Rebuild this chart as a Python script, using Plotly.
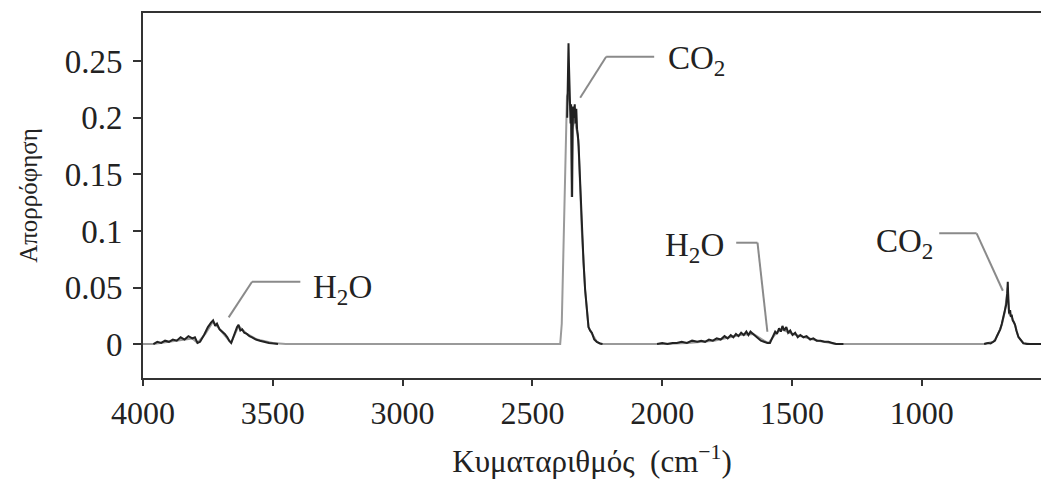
import plotly.graph_objects as go

# Smooth envelope of the IR absorbance spectrum (drawn in grey underneath)
wn_envelope = [4000, 3960, 3900, 3850, 3810, 3790, 3760, 3730, 3700, 3661, 3632, 3600,
               3560, 3500, 3450, 2400, 2393, 2387, 2378, 2370, 2367, 2362, 2357, 2352,
               2349, 2346, 2340, 2330, 2323, 2310, 2297, 2284, 2270, 2252, 2233, 2000,
               1900, 1800, 1700, 1650, 1600, 1590, 1560, 1540, 1500, 1450, 1400, 1330,
               760, 725, 712, 692, 680, 669, 664, 654, 641, 628, 609, 583, 541]
abs_envelope = [0.0, 0.0, 0.002, 0.004, 0.005, 0.001, 0.009, 0.020, 0.012, 0.001, 0.016, 0.009,
                0.004, 0.001, 0.0, 0.0, 0.0, 0.018, 0.116, 0.174, 0.219, 0.222, 0.215, 0.205,
                0.130, 0.190, 0.200, 0.190, 0.180, 0.101, 0.048, 0.015, 0.009, 0.002, 0.0, 0.0,
                0.001, 0.003, 0.008, 0.009, 0.002, 0.001, 0.010, 0.013, 0.009, 0.006, 0.003, 0.0,
                0.0, 0.002, 0.006, 0.017, 0.029, 0.050, 0.027, 0.024, 0.017, 0.006, 0.001, 0.0, 0.0]

# Finely resolved (noisy) portions of the spectrum, drawn in black on top
wn_h2o_stretch = [3960, 3945, 3930, 3915, 3900, 3885, 3870, 3855, 3840, 3825, 3810, 3800,
                  3790, 3780, 3765, 3750, 3738, 3730, 3722, 3715, 3705, 3695, 3685, 3675,
                  3668, 3660, 3652, 3645, 3638, 3632, 3625, 3618, 3610, 3600, 3590, 3580,
                  3565, 3550, 3535, 3515, 3495, 3480]
abs_h2o_stretch = [0.000, 0.002, 0.001, 0.003, 0.002, 0.004, 0.003, 0.006, 0.004, 0.007, 0.005, 0.006,
                   0.001, 0.002, 0.008, 0.015, 0.019, 0.021, 0.016, 0.018, 0.013, 0.011, 0.009, 0.006,
                   0.003, 0.001, 0.006, 0.012, 0.015, 0.017, 0.012, 0.013, 0.010, 0.009, 0.007, 0.006,
                   0.004, 0.003, 0.002, 0.001, 0.0005, 0.000]

wn_co2_stretch = [2366, 2363, 2361, 2359, 2357, 2355, 2353, 2351, 2349, 2347, 2345, 2343,
                  2340, 2337, 2334, 2331, 2328, 2325, 2322, 2316, 2310, 2303, 2297, 2290,
                  2284, 2278, 2271, 2262, 2252, 2240, 2230]
abs_co2_stretch = [0.200, 0.258, 0.266, 0.245, 0.215, 0.222, 0.195, 0.212, 0.150, 0.130, 0.190, 0.210,
                   0.200, 0.212, 0.195, 0.208, 0.190, 0.185, 0.175, 0.140, 0.101, 0.072, 0.048, 0.028,
                   0.015, 0.012, 0.010, 0.004, 0.002, 0.0005, 0.000]

wn_h2o_bend = [2020, 2000, 1980, 1960, 1944, 1925, 1905, 1885, 1865, 1850, 1835, 1820,
               1805, 1790, 1775, 1760, 1748, 1736, 1726, 1716, 1706, 1696, 1686, 1676,
               1668, 1660, 1650, 1640, 1630, 1620, 1608, 1595, 1585, 1575, 1565, 1558,
               1550, 1543, 1537, 1530, 1522, 1515, 1507, 1498, 1488, 1478, 1468, 1456,
               1444, 1430, 1418, 1405, 1390, 1375, 1360, 1345, 1330, 1302]
abs_h2o_bend = [0.000, 0.001, 0.000, 0.001, 0.001, 0.002, 0.001, 0.003, 0.002, 0.003, 0.002, 0.004,
                0.003, 0.005, 0.004, 0.007, 0.005, 0.008, 0.006, 0.009, 0.007, 0.010, 0.008, 0.011,
                0.008, 0.011, 0.009, 0.007, 0.005, 0.003, 0.002, 0.001, 0.001, 0.006, 0.011, 0.009,
                0.014, 0.011, 0.016, 0.012, 0.015, 0.010, 0.012, 0.008, 0.010, 0.006, 0.008, 0.006,
                0.007, 0.004, 0.005, 0.003, 0.003, 0.002, 0.002, 0.001, 0.000, 0.000]

wn_co2_bend = [760, 745, 735, 725, 718, 712, 705, 698, 692, 686, 680, 675, 671, 669, 667,
               664, 660, 657, 654, 650, 645, 641, 636, 631, 628, 620, 609, 595, 583, 541]
abs_co2_bend = [0.000, 0.001, 0.0005, 0.002, 0.003, 0.0065, 0.010, 0.013, 0.018, 0.024, 0.030,
                0.035, 0.045, 0.055, 0.040, 0.027, 0.030, 0.024, 0.026, 0.021, 0.019, 0.017,
                0.012, 0.009, 0.0065, 0.004, 0.0006, 0.000, 0.000, 0.000]

x_ticks = [4000, 3500, 3000, 2500, 2000, 1500, 1000]
y_ticks = [0, 0.05, 0.1, 0.15, 0.2, 0.25]
y_tick_text = ["0", "0.05", "0.1", "0.15", "0.2", "0.25"]

# Band labels: text, text anchor (wavenumber, absorbance), leader-line vertices
band_labels = [
    ("H<sub>2</sub>O", (3233, 0.048), [(3670, 0.0236), (3580, 0.0551), (3394, 0.0551)]),
    ("CO<sub>2</sub>", (1869, 0.251), [(2316, 0.2178), (2216, 0.254), (2031, 0.254)]),
    ("H<sub>2</sub>O", (1877, 0.085), [(1715, 0.0896), (1633, 0.0896), (1595, 0.0109)]),
    ("CO<sub>2</sub>", (1068, 0.089), [(933, 0.0979), (789, 0.0979), (688, 0.0471)]),
]

FONT = "Liberation Serif"
INK = "#222222"

fig = go.Figure()
fig.add_trace(go.Scatter(x=wn_envelope, y=abs_envelope, mode="lines",
                         line=dict(color="#9a9a9a", width=2), hoverinfo="skip"))
for wn, ab in [(wn_h2o_stretch, abs_h2o_stretch), (wn_co2_stretch, abs_co2_stretch),
               (wn_h2o_bend, abs_h2o_bend), (wn_co2_bend, abs_co2_bend)]:
    fig.add_trace(go.Scatter(x=wn, y=ab, mode="lines",
                             line=dict(color=INK, width=2)))

for text, (tx, ty), pts in band_labels:
    for (x0, y0), (x1, y1) in zip(pts[:-1], pts[1:]):
        fig.add_shape(type="line", x0=x0, y0=y0, x1=x1, y1=y1, xref="x", yref="y",
                      line=dict(color="#8a8a8a", width=2))
    fig.add_annotation(x=tx, y=ty, text=text, showarrow=False, xref="x", yref="y",
                       font=dict(family=FONT, size=33, color=INK))

fig.update_layout(
    width=1041, height=479,
    margin=dict(l=143, r=0, t=13, b=101),
    paper_bgcolor="white", plot_bgcolor="white",
    showlegend=False,
    font=dict(family=FONT, color=INK, size=32),
)
fig.update_xaxes(
    range=[4000, 541], tickvals=x_ticks, ticks="outside", ticklen=6, tickwidth=2,
    tickcolor="#333333", showline=True, linecolor="#333333", linewidth=2, mirror=True,
    showgrid=False, zeroline=False, tickfont=dict(size=32),
    title=dict(text="Κυματαριθμός  (cm<sup>−1</sup>)", font=dict(size=31), standoff=20),
)
fig.update_yaxes(
    range=[-0.030, 0.2927], tickvals=y_ticks, ticktext=y_tick_text, ticks="outside",
    ticklen=8, tickwidth=2, tickcolor="#333333", showline=True, linecolor="#333333",
    linewidth=2, mirror=False, showgrid=False, zeroline=False, tickfont=dict(size=33),
    ticklabelstandoff=4,
    title=dict(text="Απορρόφηση", font=dict(size=25), standoff=20),
)

fig.write_html("out.html")
